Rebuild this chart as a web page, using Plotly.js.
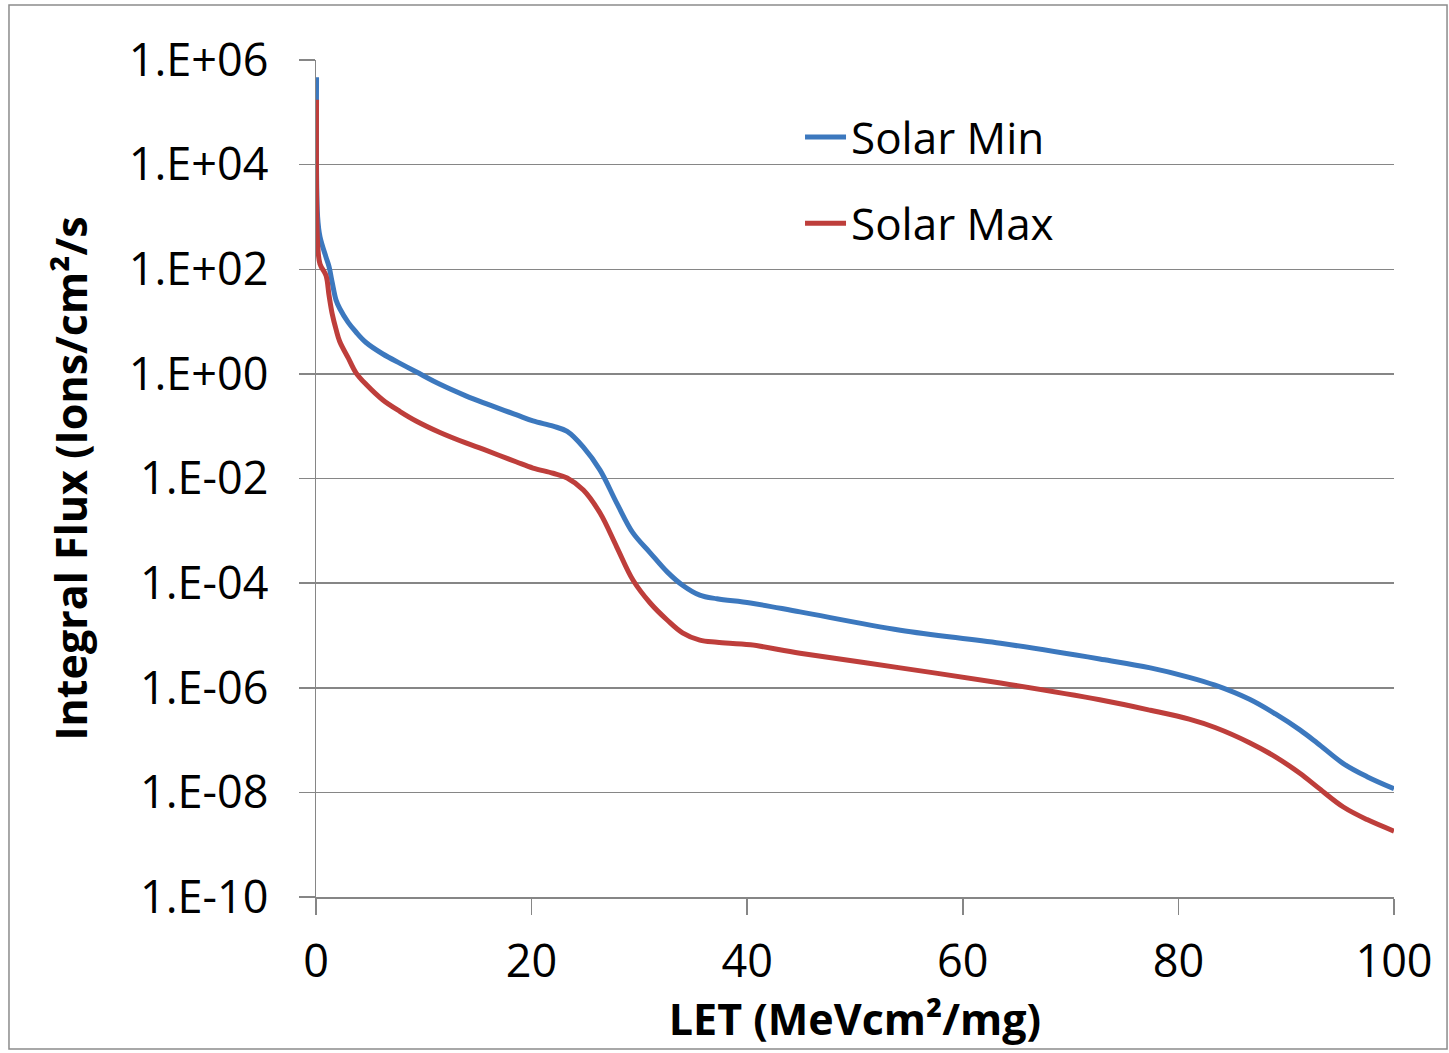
<!DOCTYPE html>
<html>
<head>
<meta charset="utf-8">
<script src="https://cdn.plot.ly/plotly-3.0.1.min.js"></script>
<style>html,body{margin:0;padding:0;background:#fff;}#chart{width:1449px;height:1053px;}</style>
</head>
<body>
<div id="chart"></div>
<script>
// LET values (MeV cm2/mg)
const letValues = [0.05, 0.15, 0.37, 0.93, 1.21, 1.5, 1.86, 2.2, 3.0, 3.71, 4.64, 6.2, 7.8, 9.28, 11.5, 13.9, 15.5, 18.55, 20.13, 22, 23.3, 24.8, 26.35, 27.9, 29.4, 31, 32.6, 34, 35.6, 37.2, 40.3, 44.9, 54.2, 63.5, 72.7, 77.4, 81, 83.4, 86.6, 89, 91.3, 92.9, 95.3, 97.5, 100];
// log10 of integral flux (Ions/cm2/s)
const solarMinLog = [5.67, 3.0, 2.62, 2.23, 2.05, 1.75, 1.41, 1.25, 0.98, 0.8, 0.6, 0.38, 0.2, 0.04, -0.2, -0.42, -0.55, -0.78, -0.9, -1.0, -1.1, -1.4, -1.84, -2.47, -3.04, -3.42, -3.79, -4.04, -4.23, -4.3, -4.38, -4.55, -4.9, -5.15, -5.45, -5.62, -5.8, -5.95, -6.22, -6.5, -6.81, -7.06, -7.45, -7.7, -7.93];
const solarMaxLog = [5.24, 2.5, 2.1, 1.88, 1.5, 1.15, 0.85, 0.62, 0.3, 0.02, -0.2, -0.5, -0.72, -0.9, -1.12, -1.32, -1.44, -1.68, -1.8, -1.9, -1.99, -2.22, -2.66, -3.31, -3.94, -4.38, -4.71, -4.95, -5.09, -5.13, -5.18, -5.34, -5.62, -5.91, -6.23, -6.43, -6.6, -6.76, -7.05, -7.32, -7.64, -7.9, -8.28, -8.52, -8.74];
const tickVals = [1e-10, 1e-8, 1e-6, 1e-4, 1e-2, 1, 1e2, 1e4, 1e6];
const tickText = ["1.E-10", "1.E-08", "1.E-06", "1.E-04", "1.E-02", "1.E+00", "1.E+02", "1.E+04", "1.E+06"];
const seriesNames = ["Solar Min", "Solar Max"];

const toFlux = a => a.map(v => Math.pow(10, v));

const traces = [
  {x: letValues, y: toFlux(solarMinLog), name: seriesNames[0], mode: 'lines', legendgroup: 'a',
   line: {color: '#3C78BE', width: 5, shape: 'spline', smoothing: 1}},
  {x: letValues, y: toFlux(solarMaxLog), name: seriesNames[1], mode: 'lines', legendgroup: 'b',
   line: {color: '#BE3E3B', width: 5, shape: 'spline', smoothing: 1}}
];

const font = "'Open Sans', 'Liberation Sans', sans-serif";
const layout = {
  width: 1449, height: 1053,
  margin: {l: 316, r: 55, t: 60, b: 156},
  paper_bgcolor: '#ffffff', plot_bgcolor: '#ffffff',
  font: {family: font, color: '#000000', size: 44},
  showlegend: true,
  legend: {x: 0.449, y: 0.95, xanchor: 'left', yanchor: 'top', bgcolor: 'rgba(0,0,0,0)',
           font: {size: 44, family: font}, tracegroupgap: 26, traceorder: 'grouped', itemwidth: 41},
  xaxis: {range: [0, 100], dtick: 20, tick0: 0, showgrid: false, zeroline: false,
          showline: true, linecolor: '#868686', linewidth: 1.5,
          ticks: 'outside', ticklen: 16, tickcolor: '#868686', tickwidth: 1.5,
          ticklabelstandoff: 8,
          tickfont: {size: 45, family: font},
          title: {text: 'LET (MeVcm²/mg)', font: {size: 43, family: font, weight: 'bold'}, standoff: 8}},
  yaxis: {type: 'log', range: [-10, 6], tickvals: tickVals, ticktext: tickText,
          showgrid: true, gridcolor: '#868686', gridwidth: 1.5, zeroline: false,
          showline: true, linecolor: '#868686', linewidth: 1.5,
          ticks: 'outside', ticklen: 16, tickcolor: '#868686', tickwidth: 1.5,
          ticklabelstandoff: 21,
          tickfont: {size: 45, family: font},
          title: {text: 'Integral Flux (Ions/cm²/s', font: {size: 43, family: font, weight: 'bold'}, standoff: 27}},
  shapes: [{type: 'rect', xref: 'paper', yref: 'paper', x0: -0.2848, x1: 1.0492, y0: -0.1816, y1: 1.0657,
            line: {color: '#8c8c8c', width: 1.5}, fillcolor: 'rgba(0,0,0,0)', layer: 'below'}]
};

Plotly.newPlot('chart', traces, layout, {displayModeBar: false, staticPlot: true});
</script>
</body>
</html>
